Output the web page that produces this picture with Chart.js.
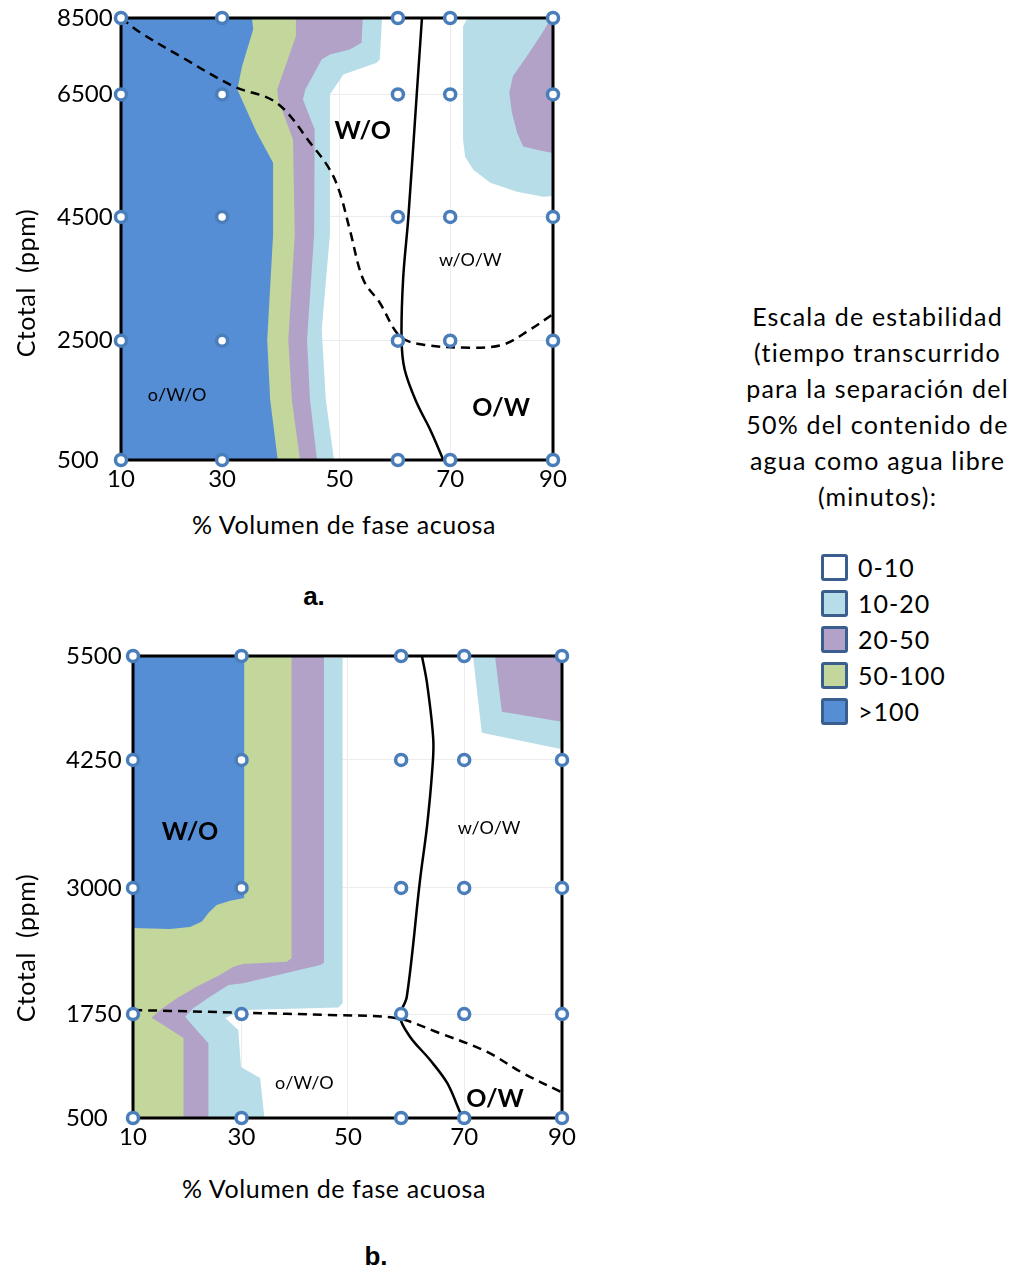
<!DOCTYPE html>
<html>
<head>
<meta charset="utf-8">
<script src="https://cdn.jsdelivr.net/npm/chart.js@4.4.1/dist/chart.umd.min.js"></script>
<style>
  body { margin: 0; width: 1020px; height: 1273px; position: relative; background: #fff; font-family: Lato, sans-serif; color: #000; overflow: hidden; }
  .abs { position: absolute; }
  .axis-title { font-size: 25px; letter-spacing: 0.6px; line-height: 30px; text-align: center; white-space: pre; }
  .ytitle { width: 300px; height: 30px; transform: rotate(-90deg); }
  .tag { font: bold 26px "Liberation Sans", Arial, sans-serif; width: 60px; line-height: 30px; text-align: center; }
  #scaleText { left: 725px; top: 298px; width: 305px; text-align: center; font-size: 25px; letter-spacing: 1.2px; line-height: 36px; }
  #legend { left: 821px; top: 549px; }
  .item { display: flex; align-items: center; height: 36px; font-size: 25px; letter-spacing: 1px; }
  .box { width: 21px; height: 21px; border: 3.5px solid #3a5f8f; border-radius: 3px; margin-right: 10px; }
</style>
</head>
<body>

<div class="abs" style="left:0;top:0"><canvas id="chartA" width="600" height="500"></canvas></div>
<div class="abs" style="left:0;top:620px"><canvas id="chartB" width="600" height="538"></canvas></div>

<div class="abs axis-title" style="left:144px;top:509px;width:400px">% Volumen de fase acuosa</div>
<div class="abs axis-title ytitle" style="left:-125px;top:268px">Ctotal  (ppm)</div>
<div class="abs tag" style="left:284px;top:581px">a.</div>

<div class="abs axis-title" style="left:134px;top:1173px;width:400px">% Volumen de fase acuosa</div>
<div class="abs axis-title ytitle" style="left:-125px;top:933px">Ctotal  (ppm)</div>
<div class="abs tag" style="left:346px;top:1241px">b.</div>

<div class="abs" id="scaleText">Escala de estabilidad<br>(tiempo transcurrido<br>para la separación del<br>50% del contenido de<br>agua como agua libre<br>(minutos):</div>
<div class="abs" id="legend"></div>

<script>
// stability classes (minutes)
const levelLabels = ['0-10', '10-20', '20-50', '50-100', '>100'];
const levelColors = ['#ffffff', '#b7dee8', '#b3a2c7', '#c3d69b', '#558ed5'];

// ---- chart a ----
const xTicksA = [10, 30, 50, 70, 90];
const yTicksA = [500, 2500, 4500, 6500, 8500];
const gridXA = [10, 30, 60, 70, 90];
const gridYA = [500, 2500, 4500, 6500, 8500];

// region edges, each closed back along the left axis
const a_10_20 = [[10,8500],[57.3,8500],[56.9,7415],[56.4,7329],[50.7,7023],[48.4,6500],[48.4,4210],[47.0,2677],[47.7,1509],[49.1,500],[10,500]];
const a_20_50 = [[10,8500],[54.0,8500],[53.8,7851],[51.8,7676],[48.4,7546],[47.0,7415],[44.2,6631],[43.8,6418],[45.8,5926],[45.7,4210],[44.5,2516],[45.0,1509],[46.2,500],[10,500]];
const a_50_100 = [[10,8500],[42.6,8500],[42.6,8024],[39.4,6631],[39.6,6418],[42.1,5762],[42.4,4210],[41.3,2516],[41.9,1509],[43.3,500],[10,500]];
const a_gt100 = [[10,8500],[35.1,8500],[35.3,8200],[33.4,7230],[32.6,6630],[35.9,5880],[38.7,5385],[38.7,4210],[37.7,2516],[38.2,1509],[39.5,500],[10,500]];
const a_corner10 = [[73.9,8500],[90,8500],[90,4840],[88.1,4828],[83.0,4910],[77.8,5057],[74.5,5270],[72.9,5483],[72.5,5762],[72.5,8278],[73.1,8434]];
const a_corner20 = [[90,8500],[89.5,8460],[87.5,8024],[84.9,7501],[82.2,6978],[81.5,6544],[82.0,6205],[83.0,5877],[84.2,5652],[86.8,5598],[89.4,5553],[90,5550]];
const a_dashed = [[10,8500],[13.8,8121],[21.7,7501],[31.9,6717],[39.3,6364],[45.5,5652],[48.4,5270],[50.1,4893],[51.8,4290],[54.1,3484],[56.9,3113],[60.4,2569],[64.8,2433],[73.9,2383],[80.3,2433],[85.5,2677],[90,2929]];
const a_solid = [[64.6,8500],[63.6,6500],[62.0,4500],[61.0,3500],[60.7,2516],[61.3,2013],[63.6,1458],[66.2,1004],[68.7,500]];
const a_labels = [['W/O', 54.0, 5910, true], ['w/O/W', 73.9, 3807, false], ['O/W', 79.9, 1374, true], ['o/W/O', 21.1, 1593, false]];

// ---- chart b ----
const xTicksB = [10, 30, 50, 70, 90];
const yTicksB = [500, 1750, 3000, 4250, 5500];
const gridXB = [10, 30, 60, 70, 90];
const gridYB = [500, 1750, 3000, 4250, 5500];

const b_10_20 = [[10,5476],[49.0,5476],[49.0,1856],[48.2,1816],[30.3,1790],[27.0,1702],[29.4,1558],[29.9,1113],[33.5,981],[34.3,500],[10,500]];
const b_20_50 = [[10,5500],[45.5,5500],[45.5,2259],[44.8,2236],[30.3,2055],[27.6,2038],[24.2,1922],[21.1,1807],[19.6,1718],[21.7,1558],[23.9,1398],[23.9,500],[10,500]];
const b_50_100 = [[10,5500],[39.4,5500],[39.4,2303],[38.5,2269],[30.3,2246],[28.5,2219],[26.0,2137],[21.7,2021],[18.1,1906],[15.0,1790],[13.4,1706],[15.0,1642],[19.3,1462],[19.3,500],[10,500]];
const b_gt100 = [[10,5500],[30.5,5500],[30.5,2901],[27.9,2874],[25.4,2831],[23.9,2752],[22.7,2666],[20.5,2613],[16.8,2593],[10,2603]];
const b_corner10 = [[71.8,5500],[90,5500],[90,4379],[73.6,4578]];
const b_corner20 = [[76.3,5500],[90,5500],[90,4710],[77.7,4831]];
const b_dashed = [[10,1790],[30.3,1763],[46.6,1738],[59.2,1698],[66.2,1518],[74.6,1297],[82.1,1037],[90,807]];
const b_solid = [[63.3,5500],[64.1,5176],[65.1,4490],[64.9,4123],[64.1,3599],[63.0,3078],[60.9,1922],[59.8,1718],[61.4,1478],[64.6,1197],[67.3,921],[69.4,560],[69.8,500]];
const b_labels = [['W/O', 20.5, 3547, true], ['w/O/W', 75.1, 3586, false], ['o/W/O', 41.8, 921, false], ['O/W', 76.3, 728, true]];

// legend
document.getElementById('legend').innerHTML = levelLabels.map((label, i) =>
    `<div class="item"><span class="box" style="background:${levelColors[i]}"></span>${label}</div>`
).join('\n');

// the axes of the original are not evenly spaced: piecewise-linear scale
function interp(xs, ys, v) {
    let i = 1;
    while (i < xs.length - 1 && v > xs[i]) i++;
    const t = (v - xs[i - 1]) / (xs[i] - xs[i - 1]);
    return ys[i - 1] + t * (ys[i] - ys[i - 1]);
}

function registerWarp(id, values, spacing) {
    class WarpScale extends Chart.LinearScale {
        getPixelForValue(value) {
            if (value === null || value === undefined) return NaN;
            return this.getPixelForDecimal(interp(values, spacing, value));
        }
        getValueForPixel(pixel) {
            return interp(spacing, values, this.getDecimalForPixel(pixel));
        }
    }
    WarpScale.id = id;
    WarpScale.defaults = {};
    Chart.register(WarpScale);
}

registerWarp('warpAx', gridXA, [0, 0.234, 0.641, 0.762, 1]);
registerWarp('warpAy', gridYA, [0, 0.270, 0.550, 0.827, 1]);
registerWarp('warpBx', gridXB, [0, 0.253, 0.625, 0.772, 1]);
registerWarp('warpBy', gridYB, [0, 0.225, 0.498, 0.775, 1]);

const pts = list => list.map(([x, y]) => ({x, y}));

function region(list, color, order) {
    return { data: pts(list), showLine: true, fill: 'shape', backgroundColor: color,
             borderColor: 'rgba(0,0,0,0)', borderWidth: 0, pointRadius: 0, tension: 0, order };
}

function curve(list, dash, order, frameAfter) {
    return { data: pts(list), showLine: true, fill: false, borderColor: '#000', borderWidth: 2.5,
             borderDash: dash, pointRadius: 0, tension: 0.35, order, frameAfter };
}

function markers(xs, ys) {
    const data = [];
    ys.forEach(y => xs.forEach(x => data.push({x, y})));
    return { data, showLine: false, pointRadius: 5.5, pointBorderWidth: 3.5, pointBorderColor: '#4a7ebb',
             pointBackgroundColor: '#fff', clip: false, order: 0 };
}

const framePlugin = {
    id: 'frame',
    afterDatasetDraw(chart, args) {
        if (!chart.data.datasets[args.index].frameAfter) return;
        const {left, top, right, bottom} = chart.chartArea;
        const ctx = chart.ctx;
        ctx.save();
        ctx.strokeStyle = '#000';
        ctx.lineWidth = 3;
        ctx.strokeRect(left, top, right - left, bottom - top);
        ctx.restore();
    }
};

function labelPlugin(labels) {
    return {
        id: 'regionLabels',
        afterDraw(chart) {
            const ctx = chart.ctx;
            ctx.save();
            ctx.fillStyle = '#000';
            ctx.textAlign = 'center';
            ctx.textBaseline = 'middle';
            labels.forEach(([text, x, y, bold]) => {
                ctx.font = bold ? 'bold 25px Lato' : '18px Lato';
                ctx.fillText(text, chart.scales.x.getPixelForValue(x), chart.scales.y.getPixelForValue(y));
            });
            ctx.restore();
        }
    };
}

const tickFont = { family: 'Lato', size: 24 };

function xAxis(type, ticks) {
    return {
        type, position: 'bottom', min: ticks[0], max: ticks[ticks.length - 1],
        afterBuildTicks: s => { s.ticks = ticks.map(v => ({value: v})); },
        afterFit: s => { s.height = 40; },
        grid: { color: '#ececec', drawTicks: false },
        border: { display: false },
        ticks: { padding: 5, color: '#000', font: tickFont, maxRotation: 0, autoSkip: false, callback: v => String(v) }
    };
}

function yAxis(type, ticks, width) {
    return {
        type, position: 'left', min: ticks[0], max: ticks[ticks.length - 1],
        afterBuildTicks: s => { s.ticks = ticks.map(v => ({value: v})); },
        afterFit: s => { s.width = width; },
        grid: { color: '#ececec', drawTicks: false },
        border: { display: false },
        ticks: { crossAlign: 'far', color: '#000', font: tickFont, autoSkip: false, callback: v => String(v) }
    };
}

function createChart(id, datasets, labels, scales, padding) {
    const ctx = document.getElementById(id);
    if (!ctx) {
        console.error(`Canvas element not found: ${id}`);
        return null;
    }
    return new Chart(ctx, {
        type: 'scatter',
        data: { datasets },
        options: {
            responsive: false,
            animation: false,
            events: [],
            layout: { padding },
            plugins: { legend: { display: false }, tooltip: { enabled: false } },
            scales
        },
        plugins: [framePlugin, labelPlugin(labels)]
    });
}

createChart('chartA', [
    region(a_10_20, levelColors[1], 9),
    region(a_20_50, levelColors[2], 8),
    region(a_50_100, levelColors[3], 7),
    region(a_gt100, levelColors[4], 6),
    region(a_corner10, levelColors[1], 5),
    region(a_corner20, levelColors[2], 4),
    curve(a_dashed, [9, 6], 3, false),
    curve(a_solid, [], 2, true),
    markers(gridXA, gridYA)
], a_labels, {
    x: xAxis('warpAx', xTicksA),
    y: yAxis('warpAy', yTicksA, 64)
}, { left: 57, right: 47, top: 18, bottom: 0 });

createChart('chartB', [
    region(b_10_20, levelColors[1], 9),
    region(b_20_50, levelColors[2], 8),
    region(b_50_100, levelColors[3], 7),
    region(b_gt100, levelColors[4], 6),
    region(b_corner10, levelColors[1], 5),
    region(b_corner20, levelColors[2], 4),
    curve(b_dashed, [9, 6], 3, false),
    curve(b_solid, [], 2, true),
    markers(gridXB, gridYB)
], b_labels, {
    x: xAxis('warpBx', xTicksB),
    y: yAxis('warpBy', yTicksB, 67)
}, { left: 66, right: 38, top: 36, bottom: 0 });
</script>
</body>
</html>
